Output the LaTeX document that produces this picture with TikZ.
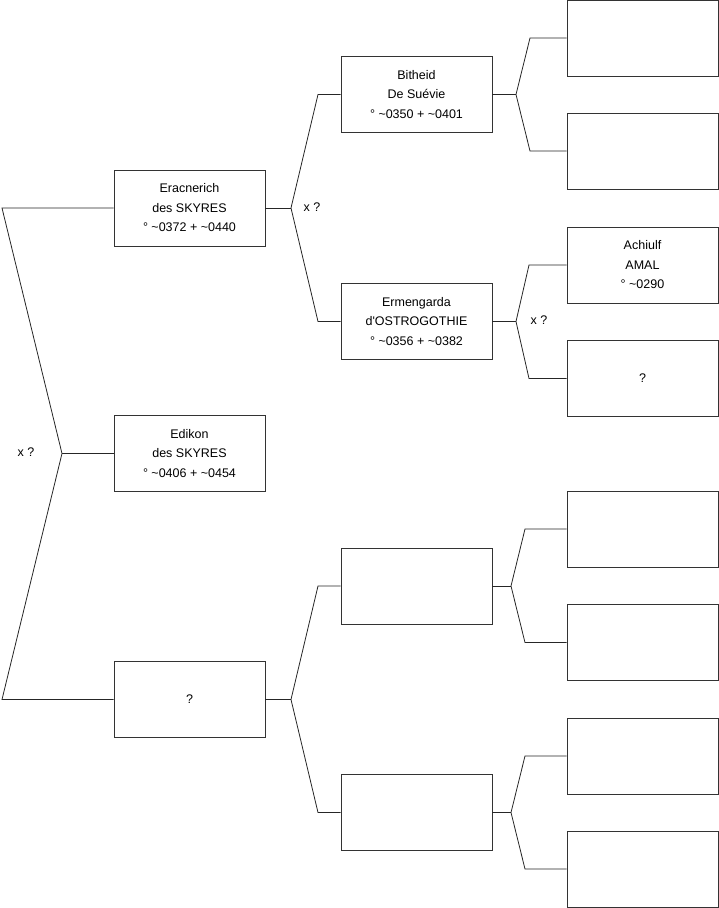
\documentclass[tikz,border=0pt]{standalone}
\usepackage{fontspec}
\setmainfont{Liberation Sans}
\newcommand{\tl}{\textasciitilde}
\tikzset{
  box/.style={draw=black!80, line width=0.8pt, minimum width=151pt, minimum height=76pt, inner sep=0pt, align=center, font=\fontsize{12.5}{19.5}\selectfont},
  lnk/.style={draw=black!85, line width=0.8pt},
  mark lbl/.style={font=\fontsize{12.5}{15}\selectfont, inner sep=0pt}
}
\begin{document}
\begin{tikzpicture}[x=1pt, y=-1pt]
  \useasboundingbox (0,0) rectangle (719,908);
  % generation 1
  \node[box] (erac) at (189.5,208) {Eracnerich\\des SKYRES\\° \tl0372 + \tl0440};
  \node[box] (edik) at (189.5,453.5) {Edikon\\des SKYRES\\° \tl0406 + \tl0454};
  \node[box] (inc) at (189.5,699.5) {?};
  % generation 2
  \node[box] (bith) at (416.5,94.5) {Bitheid\\De Suévie\\° \tl0350 + \tl0401};
  \node[box] (erm) at (416.5,321.5) {Ermengarda\\d\textquotesingle OSTROGOTHIE\\° \tl0356 + \tl0382};
  \node[box] (b1) at (416.5,586) {};
  \node[box] (b2) at (416.5,812.5) {};
  % generation 3
  \foreach \n/\y in {1/38, 2/151, 5/529, 6/642.5, 7/756, 8/869}
    \node[box] (g\n) at (642.5,\y) {};
  \node[box] (g3) at (642.5,265) {Achiulf\\AMAL\\° \tl0290};
  \node[box] (g4) at (642.5,378.5) {?};
  % forks
  \coordinate (r) at (62,453.5);
  \coordinate (ru) at (2,208);
  \coordinate (rd) at (2,699.5);
  \coordinate (a) at (291,208);
  \coordinate (au) at (318,94.5);
  \coordinate (ad) at (318,321.5);
  \coordinate (c) at (291,699.5);
  \coordinate (cu) at (318,586);
  \coordinate (cd) at (318,812.5);
  \coordinate (d1) at (516,94.5);
  \coordinate (d1u) at (530,38);
  \coordinate (d1d) at (530,151);
  \coordinate (d2) at (516,321.5);
  \coordinate (d2u) at (529,265);
  \coordinate (d2d) at (529,378.5);
  \coordinate (d3) at (511,586);
  \coordinate (d3u) at (525,529);
  \coordinate (d3d) at (525,642.5);
  \coordinate (d4) at (511,812.5);
  \coordinate (d4u) at (525,756);
  \coordinate (d4d) at (525,869);
  % connectors
  \draw[lnk] (erac.west) -- (ru) -- (r) -- (rd) -- (inc.west);
  \draw[lnk] (r) -- (edik.west);
  \draw[lnk] (erac.east) -- (a);
  \draw[lnk] (bith.west) -- (au) -- (a) -- (ad) -- (erm.west);
  \draw[lnk] (inc.east) -- (c);
  \draw[lnk] (b1.west) -- (cu) -- (c) -- (cd) -- (b2.west);
  \draw[lnk] (bith.east) -- (d1);
  \draw[lnk] (g1.west) -- (d1u) -- (d1) -- (d1d) -- (g2.west);
  \draw[lnk] (erm.east) -- (d2);
  \draw[lnk] (g3.west) -- (d2u) -- (d2) -- (d2d) -- (g4.west);
  \draw[lnk] (b1.east) -- (d3);
  \draw[lnk] (g5.west) -- (d3u) -- (d3) -- (d3d) -- (g6.west);
  \draw[lnk] (b2.east) -- (d4);
  \draw[lnk] (g7.west) -- (d4u) -- (d4) -- (d4d) -- (g8.west);
  % marriage marks
  \node[mark lbl] (m0) at (26,452) {x ?};
  \node[mark lbl] (m1) at (312,207) {x ?};
  \node[mark lbl] (m2) at (539,320) {x ?};
\end{tikzpicture}
\end{document}
